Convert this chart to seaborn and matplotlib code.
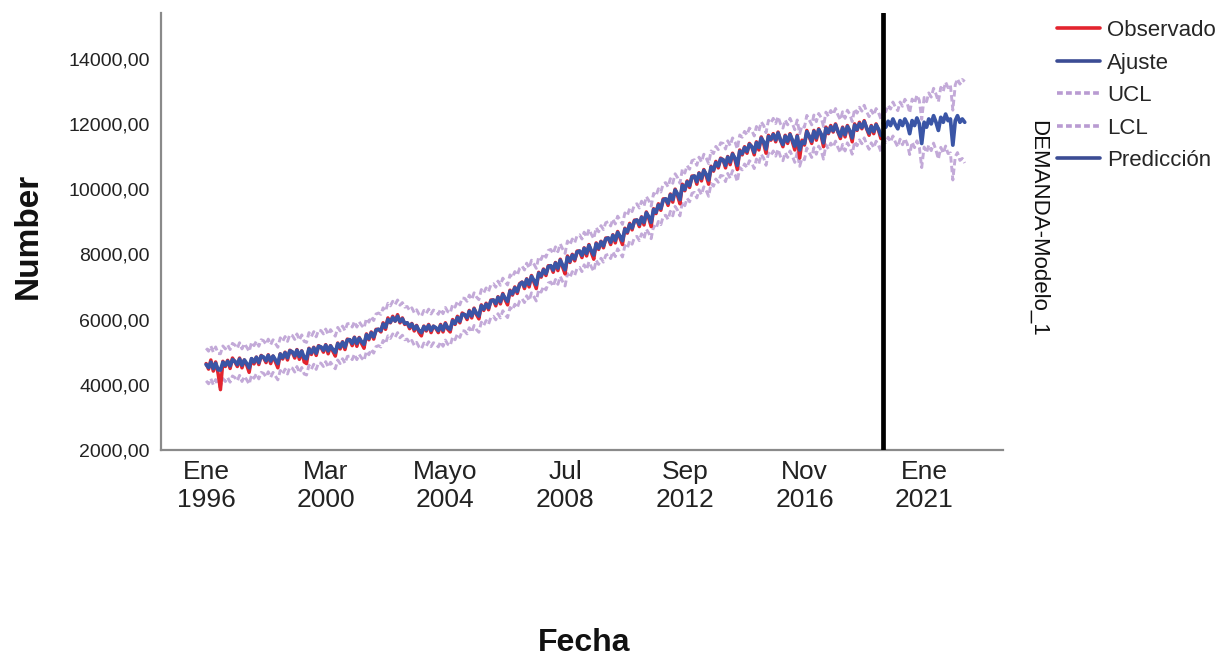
import pandas as pd
import matplotlib
matplotlib.use("Agg")
import matplotlib.pyplot as plt
import seaborn as sns
from matplotlib.ticker import FuncFormatter
from matplotlib.lines import Line2D

# ---------------- data (monthly, Jan 1996 - Jul 2019) ----------------
observado = [
    4650, 4480, 4760, 4420, 4700, 4350, 3850, 4720, 4560, 4750, 4500, 4820,
    4700, 4560, 4820, 4520, 4760, 4600, 4380, 4800, 4640, 4850, 4620, 4900,
    4830, 4680, 4920, 4650, 4880, 4700, 4520, 4950, 4790, 5000, 4760, 5060,
    5000, 4820, 5080, 4780, 5040, 4700, 4650, 5120, 4930, 5150, 4900, 5200,
    5150, 5000, 5230, 4950, 5200, 5020, 4880, 5280, 5100, 5320, 5080, 5400,
    5380, 5200, 5460, 5180, 5450, 5260, 5120, 5560, 5380, 5620, 5400, 5700,
    5700, 5620, 5900, 5700, 6050, 5900, 6100, 5950, 6150, 5900, 6050, 5850,
    5900, 5720, 5880, 5650, 5820, 5600, 5500, 5800, 5650, 5850, 5600, 5800,
    5730, 5600, 5850, 5620, 5900, 5700, 5620, 6000, 5850, 6100, 5900, 6200,
    6150, 6000, 6280, 6050, 6350, 6150, 6020, 6450, 6280, 6500, 6300, 6600,
    6600, 6420, 6700, 6480, 6800, 6600, 6450, 6900, 6750, 7000, 6800, 7100,
    7150, 6950, 7250, 7000, 7350, 7150, 6950, 7450, 7300, 7550, 7350, 7650,
    7650, 7450, 7750, 7500, 7850, 7600, 7400, 7950, 7750, 8000, 7800, 8100,
    8100, 7900, 8200, 7950, 8300, 8050, 7850, 8350, 8150, 8400, 8200, 8500,
    8500, 8300, 8600, 8350, 8700, 8500, 8300, 8800, 8650, 8950, 8750, 9050,
    9050, 8850, 9150, 8900, 9300, 9100, 8850, 9400, 9250, 9550, 9350, 9700,
    9700, 9500, 9850, 9600, 10000, 9800, 9550, 10150, 9950, 10250, 10050, 10400,
    10400, 10150, 10500, 10250, 10600, 10400, 10150, 10700, 10550, 10850, 10650, 10950,
    10900, 10650, 11000, 10750, 11100, 10900, 10600, 11200, 11050, 11300, 11100, 11400,
    11300, 11050, 11450, 11200, 11600, 11400, 11100, 11650, 11500, 11700, 11450, 11750,
    11500, 11300, 11650, 11400, 11700, 11450, 11200, 11650, 10950, 11500, 11350, 11800,
    11600, 11400, 11800, 11500, 11850, 11650, 11300, 11900, 11700, 11950, 11750, 12000,
    11750, 11550, 11900, 11600, 11950, 11750, 11450, 12000, 11800, 12050, 11850, 12100,
    11850, 11650, 11950, 11700, 12000, 11800, 11550,
]

ajuste = [
    4620, 4530, 4690, 4500, 4660, 4460, 4450, 4690, 4600, 4720, 4580, 4770,
    4720, 4620, 4790, 4600, 4760, 4650, 4520, 4800, 4700, 4840, 4680, 4880,
    4850, 4740, 4900, 4730, 4880, 4760, 4650, 4940, 4830, 4980, 4830, 5040,
    5010, 4890, 5060, 4870, 5030, 4830, 4800, 5100, 4980, 5130, 4970, 5180,
    5160, 5060, 5210, 5040, 5190, 5080, 4990, 5260, 5150, 5300, 5160, 5370,
    5380, 5270, 5440, 5270, 5430, 5320, 5240, 5530, 5420, 5590, 5470, 5670,
    5700, 5660, 5860, 5760, 6000, 5920, 6060, 5960, 6100, 5940, 6020, 5880,
    5900, 5780, 5860, 5710, 5800, 5660, 5600, 5780, 5690, 5820, 5670, 5790,
    5750, 5660, 5820, 5680, 5870, 5740, 5700, 5960, 5880, 6060, 5950, 6160,
    6150, 6060, 6250, 6110, 6320, 6190, 6110, 6420, 6320, 6470, 6360, 6570,
    6600, 6490, 6680, 6550, 6770, 6650, 6560, 6870, 6790, 6970, 6860, 7070,
    7140, 7020, 7230, 7080, 7320, 7200, 7070, 7420, 7340, 7520, 7410, 7620,
    7650, 7520, 7730, 7580, 7820, 7660, 7530, 7910, 7790, 7970, 7860, 8070,
    8100, 7970, 8180, 8030, 8270, 8110, 7980, 8320, 8190, 8380, 8260, 8470,
    8500, 8370, 8580, 8430, 8670, 8550, 8420, 8770, 8690, 8910, 8810, 9020,
    9050, 8920, 9130, 8980, 9270, 9150, 8980, 9370, 9290, 9510, 9410, 9660,
    9700, 9570, 9820, 9680, 9970, 9850, 9680, 10110, 9990, 10220, 10110, 10370,
    10400, 10230, 10480, 10330, 10570, 10450, 10280, 10670, 10590, 10810, 10710, 10920,
    10900, 10730, 10980, 10830, 11070, 10950, 10730, 11160, 11090, 11270, 11160, 11370,
    11300, 11130, 11420, 11280, 11560, 11450, 11230, 11610, 11530, 11670, 11510, 11720,
    11500, 11370, 11620, 11470, 11670, 11500, 11320, 11620, 11200, 11450, 11400, 11760,
    11620, 11470, 11770, 11570, 11820, 11690, 11420, 11860, 11730, 11910, 11790, 11970,
    11770, 11620, 11870, 11670, 11920, 11790, 11570, 11960, 11830, 12010, 11890, 12070,
    11870, 11720, 11920, 11770, 11970, 11840, 11650,
]

ucl = [
    5120, 5030, 5190, 5000, 5160, 4960, 4950, 5190, 5100, 5220, 5080, 5270,
    5220, 5120, 5290, 5100, 5260, 5150, 5020, 5300, 5200, 5340, 5180, 5380,
    5350, 5240, 5400, 5230, 5380, 5260, 5150, 5440, 5330, 5480, 5330, 5540,
    5510, 5390, 5560, 5370, 5530, 5330, 5300, 5600, 5480, 5630, 5470, 5680,
    5660, 5560, 5710, 5540, 5690, 5580, 5490, 5760, 5650, 5800, 5660, 5870,
    5880, 5770, 5940, 5770, 5930, 5820, 5740, 6030, 5920, 6090, 5970, 6170,
    6200, 6160, 6360, 6260, 6500, 6420, 6560, 6460, 6600, 6440, 6520, 6380,
    6400, 6280, 6360, 6210, 6300, 6160, 6100, 6280, 6190, 6320, 6170, 6290,
    6250, 6160, 6320, 6180, 6370, 6240, 6200, 6460, 6380, 6560, 6450, 6660,
    6650, 6560, 6750, 6610, 6820, 6690, 6610, 6920, 6820, 6970, 6860, 7070,
    7100, 6990, 7180, 7050, 7270, 7150, 7060, 7370, 7290, 7470, 7360, 7570,
    7640, 7520, 7730, 7580, 7820, 7700, 7570, 7920, 7840, 8020, 7910, 8120,
    8150, 8020, 8230, 8080, 8320, 8160, 8030, 8410, 8290, 8470, 8360, 8570,
    8600, 8470, 8680, 8530, 8770, 8610, 8480, 8820, 8690, 8880, 8760, 8970,
    9000, 8870, 9080, 8930, 9170, 9050, 8920, 9270, 9190, 9410, 9310, 9520,
    9550, 9420, 9630, 9480, 9770, 9650, 9480, 9870, 9790, 10010, 9910, 10160,
    10200, 10070, 10320, 10180, 10470, 10350, 10180, 10610, 10490, 10720, 10610, 10870,
    10900, 10730, 10980, 10830, 11070, 10950, 10780, 11170, 11090, 11310, 11210, 11420,
    11400, 11230, 11480, 11330, 11570, 11450, 11230, 11660, 11590, 11770, 11660, 11870,
    11800, 11630, 11920, 11780, 12060, 11950, 11730, 12110, 12030, 12170, 12010, 12220,
    12000, 11870, 12120, 11970, 12170, 12000, 11820, 12120, 11700, 11950, 11900, 12260,
    12120, 11970, 12270, 12070, 12320, 12190, 11920, 12360, 12230, 12410, 12290, 12470,
    12270, 12120, 12370, 12170, 12420, 12290, 12070, 12460, 12330, 12510, 12390, 12570,
    12370, 12220, 12420, 12270, 12470, 12340, 12150,
]

lcl = [
    4120, 4030, 4190, 4000, 4160, 3960, 3950, 4190, 4100, 4220, 4080, 4270,
    4220, 4120, 4290, 4100, 4260, 4150, 4020, 4300, 4200, 4340, 4180, 4380,
    4350, 4240, 4400, 4230, 4380, 4260, 4150, 4440, 4330, 4480, 4330, 4540,
    4510, 4390, 4560, 4370, 4530, 4330, 4300, 4600, 4480, 4630, 4470, 4680,
    4660, 4560, 4710, 4540, 4690, 4580, 4490, 4760, 4650, 4800, 4660, 4870,
    4880, 4770, 4940, 4770, 4930, 4820, 4740, 5030, 4920, 5090, 4970, 5170,
    5200, 5160, 5360, 5260, 5500, 5420, 5560, 5460, 5600, 5440, 5520, 5380,
    5400, 5280, 5360, 5210, 5300, 5160, 5100, 5280, 5190, 5320, 5170, 5290,
    5250, 5160, 5320, 5180, 5370, 5240, 5200, 5460, 5380, 5560, 5450, 5660,
    5650, 5560, 5750, 5610, 5820, 5690, 5610, 5920, 5820, 5970, 5860, 6070,
    6100, 5990, 6180, 6050, 6270, 6150, 6060, 6370, 6290, 6470, 6360, 6570,
    6640, 6520, 6730, 6580, 6820, 6700, 6570, 6920, 6840, 7020, 6910, 7120,
    7150, 7020, 7230, 7080, 7320, 7160, 7030, 7410, 7290, 7470, 7360, 7570,
    7600, 7470, 7680, 7530, 7770, 7610, 7480, 7820, 7690, 7880, 7760, 7970,
    8000, 7870, 8080, 7930, 8170, 8050, 7920, 8270, 8190, 8410, 8310, 8520,
    8550, 8420, 8630, 8480, 8770, 8650, 8480, 8870, 8790, 9010, 8910, 9160,
    9200, 9070, 9320, 9180, 9470, 9350, 9180, 9610, 9490, 9720, 9610, 9870,
    9900, 9730, 9980, 9830, 10070, 9950, 9780, 10170, 10090, 10310, 10210, 10420,
    10400, 10230, 10480, 10330, 10570, 10450, 10230, 10660, 10590, 10770, 10660, 10870,
    10800, 10630, 10920, 10780, 11060, 10950, 10730, 11110, 11030, 11170, 11010, 11220,
    11000, 10870, 11120, 10970, 11170, 11000, 10820, 11120, 10700, 10950, 10900, 11260,
    11120, 10970, 11270, 11070, 11320, 11190, 10920, 11360, 11230, 11410, 11290, 11470,
    11270, 11120, 11370, 11170, 11420, 11290, 11070, 11460, 11330, 11510, 11390, 11570,
    11370, 11220, 11420, 11270, 11470, 11340, 11150,
]

# ---------------- forecast (monthly, Aug 2019 - Jun 2022) ----------------
prediccion = [
    12020, 11900, 12080, 11950, 12150, 11980, 11850, 12100, 11950, 12150, 12000, 11700,
    12100, 11950, 12180, 12000, 11400, 12050, 11900, 12150, 12000, 12250, 12050, 11800,
    12200, 12050, 12300, 12100, 12150, 11350, 12100, 12250, 12050, 12150, 12050,
]
ucl_pred = [
    12470, 12370, 12570, 12455, 12670, 12520, 12405, 12670, 12540, 12755, 12620, 12340,
    12760, 12630, 12880, 12720, 12140, 12810, 12680, 12950, 12820, 13090, 12910, 12680,
    13120, 13000, 13280, 13110, 13190, 12420, 13200, 13380, 13220, 13360, 13300,
]
lcl_pred = [
    11570, 11430, 11590, 11445, 11630, 11440, 11295, 11530, 11360, 11545, 11380, 11060,
    11440, 11270, 11480, 11280, 10660, 11290, 11120, 11350, 11180, 11410, 11190, 10920,
    11280, 11100, 11320, 11090, 11110, 10280, 11000, 11120, 10880, 10940, 10800,
]

tick_dates = ["1996-01-01", "2000-03-01", "2004-05-01", "2008-07-01",
              "2012-09-01", "2016-11-01", "2021-01-01"]
tick_labels = ["Ene\n1996", "Mar\n2000", "Mayo\n2004", "Jul\n2008",
               "Sep\n2012", "Nov\n2016", "Ene\n2021"]
y_ticks = [2000, 4000, 6000, 8000, 10000, 12000, 14000]
origen_pred = "2019-07-25"

# ---------------- frames ----------------
fechas = pd.date_range("1996-01-01", periods=len(observado), freq="MS")
fechas_pred = pd.date_range("2019-08-01", periods=len(prediccion), freq="MS")
hist = pd.DataFrame({"Fecha": fechas, "Observado": observado, "Ajuste": ajuste,
                     "UCL": ucl, "LCL": lcl})
pred = pd.DataFrame({"Fecha": fechas_pred, "Predicción": prediccion,
                     "UCL": ucl_pred, "LCL": lcl_pred})
bandas = pd.concat([hist[["Fecha", "UCL", "LCL"]], pred[["Fecha", "UCL", "LCL"]]],
                   ignore_index=True)

# ---------------- style ----------------
sns.set_style("white")
plt.rcParams["font.family"] = ["Liberation Sans", "DejaVu Sans"]

RED = "#e3242e"
BLUE = "#3a55a6"
PURPLE = "#b99bd2"
DASH = (0, (2.2, 1.1))

fig = plt.figure(figsize=(12.26, 6.61), dpi=100)
ax = fig.add_axes([161 / 1226, 1 - 450 / 661, (1003 - 161) / 1226, (450 - 13) / 661])

sns.lineplot(data=bandas, x="Fecha", y="UCL", color=PURPLE, lw=2.1,
             linestyle=DASH, ax=ax, zorder=1, alpha=0.85)
sns.lineplot(data=bandas, x="Fecha", y="LCL", color=PURPLE, lw=2.1,
             linestyle=DASH, ax=ax, zorder=1, alpha=0.85)
sns.lineplot(data=hist, x="Fecha", y="Observado", color=RED, lw=2.5, ax=ax, zorder=2)
sns.lineplot(data=hist, x="Fecha", y="Ajuste", color=BLUE, lw=2.7, ax=ax, zorder=3)
sns.lineplot(data=pred, x="Fecha", y="Predicción", color=BLUE, lw=2.7, ax=ax, zorder=3)

ax.axvline(pd.Timestamp(origen_pred), color="black", lw=3.4, zorder=5)

# axes
ax.set_xlim(pd.Timestamp("1994-06-06"), pd.Timestamp("2023-10-01"))
ax.set_ylim(2000, 15400)
ax.set_yticks(y_ticks)
ax.yaxis.set_major_formatter(FuncFormatter(lambda v, p: f"{v:.2f}".replace(".", ",")))
ax.set_xticks([pd.Timestamp(d) for d in tick_dates])
ax.set_xticklabels(tick_labels)
ax.tick_params(axis="both", length=0)
ax.tick_params(axis="y", labelsize=14, pad=8, colors="#222222")
ax.tick_params(axis="x", labelsize=19, pad=7, colors="#222222")
for lab in ax.get_xticklabels():
    lab.set_linespacing(1.25)

for s in ["top", "right"]:
    ax.spines[s].set_visible(False)
for s in ["left", "bottom"]:
    ax.spines[s].set_color("#8a8a8a")
    ax.spines[s].set_linewidth(1.6)
ax.grid(False)

ax.set_ylabel("Number", fontsize=24, fontweight="bold", color="#111111")
ax.yaxis.set_label_coords(-0.158, 0.49)
ax.yaxis.label.set_va("center")
ax.set_xlabel("Fecha", fontsize=23, fontweight="bold", color="#111111")
ax.xaxis.set_label_coords(0.502, -0.442)
ax.xaxis.label.set_va("center")

# legend
handles = [
    Line2D([], [], color=RED, lw=2.6),
    Line2D([], [], color="#3b4c94", lw=2.6),
    Line2D([], [], color=PURPLE, lw=2.6, linestyle=(0, (1.6, 0.9))),
    Line2D([], [], color=PURPLE, lw=2.6, linestyle=(0, (1.6, 0.9))),
    Line2D([], [], color="#3b4c94", lw=2.6),
]
labels = ["Observado", "Ajuste", "UCL", "LCL", "Predicción"]
ax.legend(handles, labels, loc="upper left", bbox_to_anchor=(1057 / 1226, 1 - 20 / 661),
          bbox_transform=fig.transFigure, frameon=False, fontsize=16,
          borderpad=0, borderaxespad=0, handlelength=1.95, handletextpad=0.3,
          labelspacing=0.52)

fig.text(1038 / 1226, 1 - 228 / 661, "DEMANDA-Modelo_1", rotation=270,
         ha="center", va="center", fontsize=16, color="#111111")

fig.savefig("out.png", dpi=100)
